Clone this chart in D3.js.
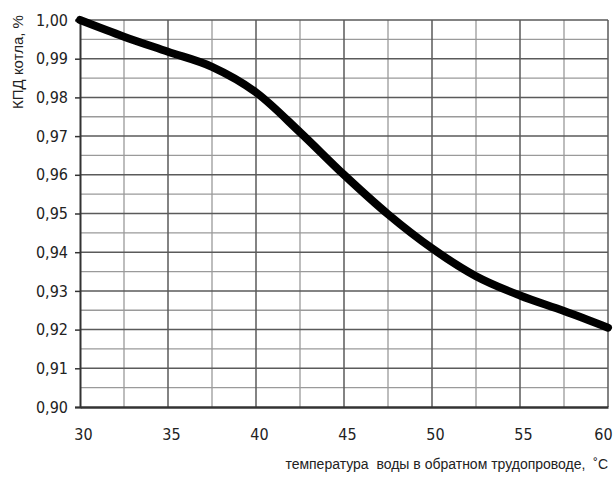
<!DOCTYPE html>
<html><head><meta charset="utf-8">
<script src="https://cdn.jsdelivr.net/npm/d3@7"></script>
<style>
body{margin:0;background:#fff;}
svg{display:block;}
</style></head>
<body>
<svg id="c" width="616" height="483"></svg>
<script>
const temps = [30, 32.5, 35, 37.5, 40, 42.5, 45, 47.5, 50, 52.5, 55, 57.5, 60];
const kpd = [1.000, 0.9957, 0.9918, 0.9879, 0.9813, 0.9710, 0.9600, 0.9498, 0.9410, 0.9338, 0.9288, 0.9248, 0.9205];
const xTicks = [30, 35, 40, 45, 50, 55, 60];
const yTicks = [0.90, 0.91, 0.92, 0.93, 0.94, 0.95, 0.96, 0.97, 0.98, 0.99, 1.00];
const xLabel = "температура  воды в обратном трудопроводе,  ˚C";
const yLabel = "КПД котла, %";

const svg = d3.select("#c");
const x = d3.scaleLinear().domain([30, 60]).range([80, 608]);
const y = d3.scaleLinear().domain([0.90, 1.00]).range([407, 20]);

// minor grid
const xMinor = d3.range(32.5, 60, 5);
const yMinor = d3.range(0, 10).map(i => 0.905 + i * 0.01);
svg.append("g").selectAll("line").data(xMinor).join("line")
  .attr("x1", d => x(d)).attr("x2", d => x(d)).attr("y1", y(1)).attr("y2", y(0.9))
  .attr("stroke", "#9a9a9a").attr("stroke-width", 1.3);
svg.append("g").selectAll("line").data(yMinor).join("line")
  .attr("x1", x(30)).attr("x2", x(60)).attr("y1", d => y(d)).attr("y2", d => y(d))
  .attr("stroke", "#9a9a9a").attr("stroke-width", 1.3);
// major grid
svg.append("g").selectAll("line").data(xTicks.slice(1)).join("line")
  .attr("x1", d => x(d)).attr("x2", d => x(d)).attr("y1", y(1)).attr("y2", y(0.9))
  .attr("stroke", "#5a5a5a").attr("stroke-width", 1.5);
svg.append("g").selectAll("line").data(yTicks.slice(1)).join("line")
  .attr("x1", x(30)).attr("x2", x(60)).attr("y1", d => y(d)).attr("y2", d => y(d))
  .attr("stroke", "#5a5a5a").attr("stroke-width", 1.5);

// axes
const yAxis = d3.axisLeft(y).tickValues(yTicks).tickSize(5).tickPadding(7)
  .tickFormat(d => d3.format(".2f")(d).replace(".", ","));
const gy = svg.append("g").attr("transform", `translate(${x(30)},0)`).call(yAxis);
gy.select(".domain").attr("stroke", "#333").attr("stroke-width", 2);
gy.selectAll(".tick line").attr("stroke", "#333").attr("stroke-width", 1.5);
gy.selectAll("text").attr("font-family", "'Liberation Sans Narrow','DejaVu Sans Condensed',sans-serif")
  .attr("font-size", 16).attr("fill", "#222");

const xAxis = d3.axisBottom(x).tickValues(xTicks).tickSize(0).tickPadding(22);
const gx = svg.append("g").attr("transform", `translate(0,${y(0.9)})`).call(xAxis);
gx.select(".domain").attr("stroke", "#333").attr("stroke-width", 2.5);
gx.selectAll("text").attr("font-family", "'Liberation Sans Narrow','DejaVu Sans Condensed',sans-serif")
  .attr("font-size", 16).attr("fill", "#222")
  .attr("dx", d => d === 60 ? -5 : 3);

// curve
const line = d3.line().x((d, i) => x(temps[i])).y(d => y(d)).curve(d3.curveMonotoneX);
svg.append("path").datum(kpd).attr("d", line)
  .attr("fill", "none").attr("stroke", "#000").attr("stroke-width", 8)
  .attr("stroke-linecap", "round").attr("stroke-linejoin", "round");

// axis titles
svg.append("text").attr("transform", `translate(18,62) rotate(-90)`)
  .attr("dy", "0.35em")
  .attr("text-anchor", "middle").attr("font-family", "'Liberation Sans',Arial,sans-serif")
  .attr("font-size", 15).attr("fill", "#222").text(yLabel);
svg.append("text").attr("x", 608).attr("y", 469).attr("text-anchor", "end")
  .attr("font-family", "'Liberation Sans',Arial,sans-serif")
  .attr("font-size", 14).attr("fill", "#222").attr("xml:space", "preserve")
  .style("white-space", "pre").text(xLabel);
</script>
</body></html>
